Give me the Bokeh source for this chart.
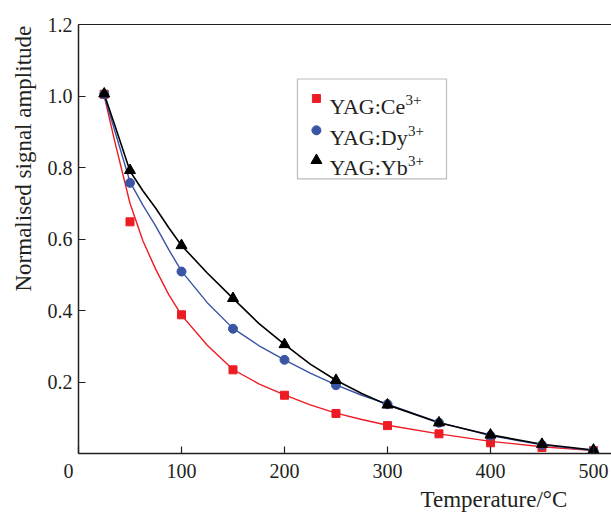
from bokeh.plotting import figure
from bokeh.models import Range1d, FixedTicker, LinearAxis, BoxAnnotation, Title
from bokeh.core.properties import value
from bokeh.embed import file_html
from bokeh.resources import INLINE

# ---- data ----
temp_pts = [25, 50, 100, 150, 200, 250, 300, 350, 400, 450, 500]
ce_pts = [1.005, 0.648, 0.388, 0.234, 0.163, 0.112, 0.078, 0.055, 0.030, 0.017, 0.008]
dy_pts = [1.005, 0.757, 0.509, 0.349, 0.262, 0.191, 0.138, 0.086, 0.050, 0.024, 0.008]
yb_pts = [1.006, 0.792, 0.582, 0.434, 0.305, 0.205, 0.136, 0.086, 0.052, 0.026, 0.010]

temp_fit = [25, 35, 50, 62.5, 75, 87.5, 100, 125, 150, 175, 200, 225, 250, 275, 300, 350, 400, 450, 500]
ce_fit = [1.0, 0.875, 0.70, 0.595, 0.515, 0.445, 0.387, 0.303, 0.235, 0.195, 0.164, 0.136, 0.113, 0.095, 0.079, 0.055, 0.034, 0.019, 0.008]
dy_fit = [1.0, 0.905, 0.76, 0.695, 0.636, 0.571, 0.51, 0.422, 0.35, 0.302, 0.262, 0.225, 0.192, 0.163, 0.138, 0.087, 0.05, 0.024, 0.008]
yb_fit = [1.005, 0.92, 0.79, 0.735, 0.686, 0.632, 0.582, 0.505, 0.434, 0.364, 0.305, 0.25, 0.205, 0.168, 0.136, 0.086, 0.052, 0.026, 0.010]

series_names = ["YAG:Ce", "YAG:Dy", "YAG:Yb"]
series_sup = ["3+", "3+", "3+"]
x_ticks = [0, 100, 200, 300, 400, 500]
y_ticks = [0.2, 0.4, 0.6, 0.8, 1.0, 1.2]
x_title = "Temperature/°C"
y_title = "Normalised signal amplitude"

# ---- styles ----
RED = "#ED1C24"
BLUE = "#3A55A4"
BLACK = "#000000"
INK = "#231F20"
SERIF = "Liberation Serif"

X_MAX = 517.5
Y_MAX = 1.2

p = figure(frame_width=533, frame_height=429,
           x_range=Range1d(0, X_MAX), y_range=Range1d(0, Y_MAX),
           output_backend="svg", toolbar_location=None,
           min_border_left=78, min_border_right=0, min_border_top=24, min_border_bottom=59)
p.outline_line_color = None
p.xgrid.visible = False
p.ygrid.visible = False
p.background_fill_color = "white"
p.border_fill_color = "white"

for ax in (p.xaxis[0], p.yaxis[0]):
    ax.axis_line_color = INK
    ax.axis_line_width = 1.5
    ax.major_tick_line_color = INK
    ax.major_tick_line_width = 1.2
    ax.major_tick_in = 7
    ax.major_tick_out = 0
    ax.minor_tick_line_color = None
    ax.major_label_text_font = SERIF
    ax.major_label_text_font_size = "20px"
    ax.major_label_text_color = INK
    ax.major_label_standoff = 6

p.xaxis[0].ticker = FixedTicker(ticks=x_ticks)
# origin label sits a little left of the corner, as in the reference
p.xaxis[0].major_label_overrides = {0: "0\u00a0\u00a0\u00a0\u00a0"}
p.yaxis[0].ticker = FixedTicker(ticks=y_ticks)
p.yaxis[0].major_label_overrides = {t: f"{t:.1f}" for t in y_ticks}

top = LinearAxis(axis_line_color=INK, axis_line_width=1.2,
                 major_tick_line_color=None, minor_tick_line_color=None,
                 major_label_text_font_size="0px", ticker=FixedTicker(ticks=[]))
p.add_layout(top, "above")

# axis titles (as side titles so they can be offset along the axis)
p.add_layout(Title(text=x_title, align="left", offset=342, standoff=0,
                   text_font=SERIF, text_font_size="23px", text_font_style="normal",
                   text_color=INK), "below")
p.add_layout(Title(text=y_title, align="left", offset=162, standoff=17,
                   text_font=SERIF, text_font_size="23px", text_font_style="normal",
                   text_color=INK), "left")

# fitted curves
p.line(temp_fit, ce_fit, line_color=RED, line_width=1.4)
p.line(temp_fit, dy_fit, line_color=BLUE, line_width=1.4)
p.line(temp_fit, yb_fit, line_color=BLACK, line_width=1.6)

# measured points
p.scatter(temp_pts, ce_pts, marker="square", size=8, fill_color=RED, line_color=RED)
p.scatter(temp_pts, dy_pts, marker="circle", size=9, fill_color=BLUE, line_color=BLUE)
p.scatter(temp_pts, yb_pts, marker="triangle", size=11, fill_color=BLACK, line_color=BLACK)

# legend (drawn by hand to allow superscripts)
p.add_layout(BoxAnnotation(left=212.6, right=357.3, bottom=0.768, top=1.0476,
                           fill_color=None, line_color=INK, line_width=1.2))
leg_marker_x = 231
leg_text_x = 243.7
leg_base_y = [0.972, 0.885, 0.799]
leg_mark_y = [0.993, 0.904, 0.820]
sup_x = [317.6, 320.0, 320.0]
p.scatter([leg_marker_x], [leg_mark_y[0]], marker="square", size=8, fill_color=RED, line_color=RED)
p.scatter([leg_marker_x], [leg_mark_y[1]], marker="circle", size=9, fill_color=BLUE, line_color=BLUE)
p.scatter([leg_marker_x], [leg_mark_y[2]], marker="triangle", size=11, fill_color=BLACK, line_color=BLACK)
p.text([leg_text_x] * 3, leg_base_y, text=series_names, text_font=value(SERIF),
       text_font_size="22px", text_color=INK, text_baseline="alphabetic", text_align="left")
p.text(sup_x, [b + 0.018 for b in leg_base_y], text=series_sup, text_font=value(SERIF),
       text_font_size="15px", text_color=INK, text_baseline="alphabetic", text_align="left")

open("out.html", "w").write(file_html(p, INLINE))
